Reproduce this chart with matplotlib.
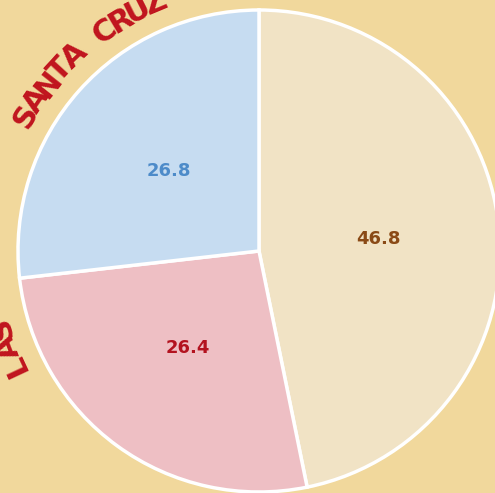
import numpy as np
import matplotlib
matplotlib.use("Agg")
import matplotlib.pyplot as plt

# slice data (clockwise from the top)
labels = ["46.8", "26.4", "26.8"]
values = [46.8, 26.4, 26.8]
slice_colors = ["#f1e3c5", "#eebfc4", "#c6dcf1"]
label_colors = ["#8a4a16", "#b3121f", "#4d8bc9"]

# curved title fragments visible around the pie
arc_words = ["LAS", "SANTA CRUZ"]
arc_start = [205.0, 150.0]  # degrees, where each word starts
arc_step = 4.15

bg = "#f1d89c"

fig = plt.figure(figsize=(4.95, 4.93), dpi=100)
fig.patch.set_facecolor(bg)
ax = fig.add_axes([0, 0, 1, 1])
ax.set_facecolor(bg)

wedges, texts = ax.pie(
    values,
    labels=None,
    colors=slice_colors,
    startangle=90,
    counterclock=False,
    wedgeprops=dict(edgecolor="white", linewidth=2.5),
)

# value labels inside slices
ang0 = 90.0
for val, lab, col in zip(values, labels, label_colors):
    mid = ang0 - val / 100 * 360 / 2
    ang0 -= val / 100 * 360
    r = 0.5
    ax.text(r * np.cos(np.radians(mid)), r * np.sin(np.radians(mid)), lab,
            ha="center", va="center", fontsize=13, fontweight="bold", color=col)

# red text along the outer arc
R = 1.115
for word, start in zip(arc_words, arc_start):
    for i, ch in enumerate(word):
        th = start - i * arc_step
        ax.text(R * np.cos(np.radians(th)), R * np.sin(np.radians(th)), ch,
                ha="center", va="center", rotation=th - 90, rotation_mode="anchor",
                fontsize=22, fontweight="bold", color="#c0141e")

ax.set_aspect("auto")
ax.set_xlim(-259 / 241, (495 - 259) / 241)
ax.set_ylim((251 - 493) / 241, 251 / 241)
ax.axis("off")

fig.savefig("out.png", dpi=100, facecolor=bg)
